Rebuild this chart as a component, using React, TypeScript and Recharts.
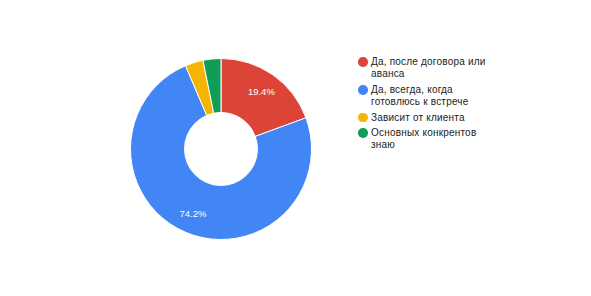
import React from 'react';
import { PieChart, Pie, Cell, Legend } from 'recharts';

const answers = [
  'Да, после договора или аванса',
  'Да, всегда, когда готовлюсь к встрече',
  'Зависит от клиента',
  'Основных конкрентов знаю',
];
const shares = [19.4, 74.2, 3.2, 3.2];
const colors = ['#db4437', '#4285f4', '#f4b400', '#0f9d58'];

const data = answers.map((name, i) => ({ name, value: shares[i] }));

const RADIAN = Math.PI / 180;

// white % labels inside the ring, small slices get none (like the original)
const renderLabel = (props: any) => {
  const { cx, cy, midAngle, percent } = props;
  if (percent < 0.05) return null;
  const r = 70.5;
  const x = cx + r * Math.cos(-midAngle * RADIAN);
  const y = cy + r * Math.sin(-midAngle * RADIAN);
  return (
    <text
      x={x}
      y={y}
      fill="#ffffff"
      fontSize={9.5}
      fontFamily="Arial, 'Liberation Sans', sans-serif"
      textAnchor="middle"
      dominantBaseline="central"
    >
      {(percent * 100).toFixed(1)}%
    </text>
  );
};

const LegendList = () => (
  <div style={{ fontFamily: "Arial, 'Liberation Sans', sans-serif", fontSize: 10, letterSpacing: 0.2, color: '#222222' }}>
    {answers.map((name, i) => (
      <div key={name} style={{ display: 'flex', alignItems: 'flex-start', marginBottom: 3.2 }}>
        <span
          style={{
            width: 9.5,
            height: 9.5,
            borderRadius: '50%',
            background: colors[i],
            marginTop: 1.4,
            marginRight: 3.5,
            flexShrink: 0,
          }}
        />
        <span style={{ width: 124, lineHeight: '12.3px' }}>{name}</span>
      </div>
    ))}
  </div>
);

export default function App() {
  return (
    <div style={{ position: 'absolute', left: 0, top: 0, width: 591, height: 296, background: '#fff' }}>
      <PieChart width={591} height={296} margin={{ top: 0, right: 0, bottom: 0, left: 0 }}>
        <Pie
          data={data}
          dataKey="value"
          nameKey="name"
          cx={221}
          cy={149}
          innerRadius={36.5}
          outerRadius={90.5}
          startAngle={90}
          endAngle={-270}
          stroke="#ffffff"
          strokeWidth={1}
          label={renderLabel}
          labelLine={false}
          isAnimationActive={false}
        >
          {data.map((d, i) => (
            <Cell key={d.name} fill={colors[i]} />
          ))}
        </Pie>
        <Legend
          layout="vertical"
          content={() => <LegendList />}
          wrapperStyle={{ position: 'absolute', left: 358, top: 56, width: 150 }}
        />
      </PieChart>
    </div>
  );
}
